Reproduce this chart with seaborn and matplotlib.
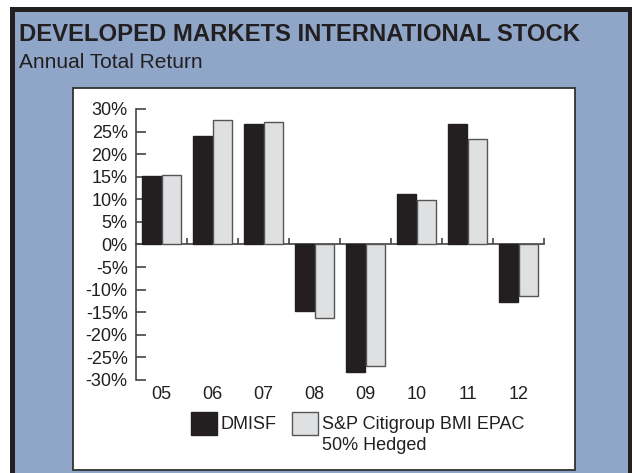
import numpy as np
import pandas as pd
import matplotlib
matplotlib.use("Agg")
import matplotlib.pyplot as plt
from matplotlib.patches import Rectangle, Patch
import seaborn as sns

# Annual total return by year (%)
years = ["05", "06", "07", "08", "09", "10", "11", "12"]
dmisf = [15.2, 24.1, 26.6, -14.7, -28.3, 11.1, 26.6, -12.7]
benchmark = [15.3, 27.6, 27.2, -16.2, -27.0, 9.8, 23.3, -11.4]
series_names = ["DMISF", "S&P Citigroup BMI EPAC"]
benchmark_note = "50% Hedged"
yticks = list(range(-30, 31, 5))
ytick_labels = [f"{v}%" for v in yticks]
title = "DEVELOPED MARKETS INTERNATIONAL STOCK"
subtitle = "Annual Total Return"

DARK = "#231f20"
LIGHT = "#dfe0e2"
EDGE_LIGHT = "#555555"
AXIS = "#444444"
PANEL = "#8fa6c9"

sns.set_theme(style="white")
plt.rcParams["font.family"] = ["Liberation Sans", "DejaVu Sans"]

W, H = 632, 473
fig = plt.figure(figsize=(W / 100, H / 100), dpi=100, facecolor="white")


def fig_rect(x0, y0, x1, y1, **kw):
    """Rectangle given in pixel coordinates measured from the top-left."""
    return Rectangle((x0 / W, 1 - y1 / H), (x1 - x0) / W, (y1 - y0) / H,
                     transform=fig.transFigure, **kw)


# Framed blue panel with a white chart card
fig.add_artist(fig_rect(10, 7, 660, 500, facecolor=DARK, edgecolor="none", zorder=-30))
fig.add_artist(fig_rect(15, 12, 628, 500, facecolor=PANEL, edgecolor="none", zorder=-20))
fig.add_artist(fig_rect(73, 88, 575, 470, facecolor="white", edgecolor="#333333",
                        linewidth=1.3, zorder=-10))

fig.text(19 / W, 1 - 41 / H, title, fontsize=17.2, fontweight="bold",
         color=DARK, va="baseline", ha="left")
fig.text(19 / W, 1 - 68 / H, subtitle, fontsize=15, color=DARK,
         va="baseline", ha="left")

df = pd.DataFrame({
    "year": years * 2,
    "series": [series_names[0]] * len(years) + [series_names[1]] * len(years),
    "ret": dmisf + benchmark,
})

ax = fig.add_axes([136 / W, 1 - 380 / H, 408 / W, 271 / H])
ax.patch.set_alpha(0)
sns.barplot(data=df, x="year", y="ret", hue="series", hue_order=series_names,
            palette=[DARK, LIGHT], saturation=1, width=0.78, gap=0.05,
            linewidth=1.0, legend=False, errorbar=None, ax=ax)
for container, ec in zip(ax.containers, [DARK, EDGE_LIGHT]):
    for bar in container:
        bar.set_edgecolor(ec)

ax.set_xlim(-0.5, len(years) - 0.5)
ax.set_ylim(yticks[0], yticks[-1])
ax.set_yticks(yticks, labels=ytick_labels)
ax.set_xlabel("")
ax.set_ylabel("")
ax.grid(False)
for side in ["top", "right", "bottom"]:
    ax.spines[side].set_visible(False)
ax.spines["left"].set_color(AXIS)
ax.spines["left"].set_linewidth(1.2)
ax.tick_params(axis="y", left=True, direction="in", length=7, width=1.2,
               color=AXIS, pad=6, labelsize=13, labelcolor=DARK)
ax.tick_params(axis="x", bottom=False, length=0, pad=4, labelsize=13,
               labelcolor=DARK)

# Zero line with small upward ticks between the years
zero_axis = ax.secondary_xaxis(0, transform=ax.transData)
zero_axis.set_xticks(np.arange(0.5, len(years), 1.0))
zero_axis.tick_params(axis="x", direction="in", length=4.5, width=1.2,
                      color=AXIS, labelbottom=False)
zero_axis.spines["bottom"].set_color(AXIS)
zero_axis.spines["bottom"].set_linewidth(1.2)

handles = [Patch(facecolor=DARK, edgecolor=DARK, linewidth=1.0),
           Patch(facecolor=LIGHT, edgecolor=EDGE_LIGHT, linewidth=1.0)]
leg = fig.legend(handles, series_names, loc="upper left",
                 bbox_to_anchor=(191 / W, 1 - 412 / H), ncol=2, frameon=False,
                 fontsize=13, handlelength=1.45, handleheight=1.55,
                 handletextpad=0.2, columnspacing=0.85, borderpad=0,
                 borderaxespad=0, labelcolor=DARK)

# Second line of the benchmark label, placed under its legend text
fig.canvas.draw()
bb = leg.get_texts()[1].get_window_extent()
fig.text(bb.x0 / W, (bb.y0 - 4) / H, benchmark_note, va="top", ha="left",
         fontsize=13, color=DARK)

fig.savefig("out.png", dpi=100, facecolor="white")
